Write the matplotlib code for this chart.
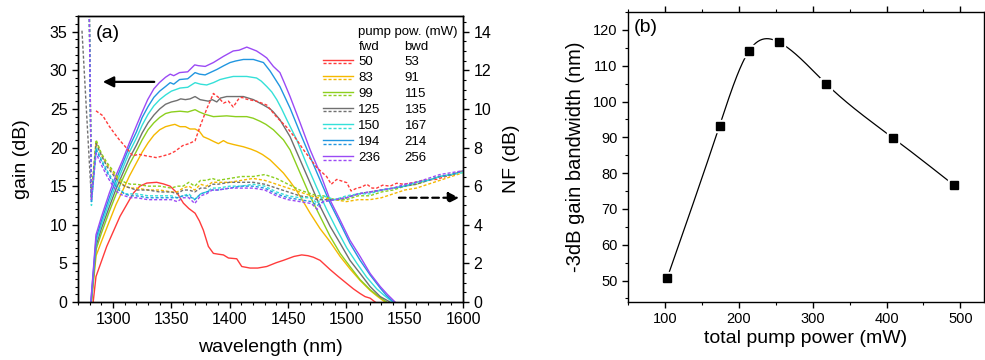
import numpy as np
import matplotlib
matplotlib.use("Agg")
import matplotlib.pyplot as plt
from matplotlib.ticker import MultipleLocator

plt.rcParams['font.family'] = ['Liberation Sans', 'DejaVu Sans']

# ---------------- data: panel (a) gain (solid, left axis) ----------------
fwd_power = [50, 83, 99, 125, 150, 194, 236]
bwd_power = [53, 91, 115, 135, 167, 214, 256]
colors = ['#ff3b3b', '#f5b800', '#8ccf1e', '#707070', '#35e0d8', '#2196e0', '#9b4af5']

wl_g50 = [1283, 1285.4, 1294.6, 1306, 1317.4, 1323, 1328.9, 1337.4, 1343, 1348.9, 1355, 1360.3, 1365,
          1370.3, 1374, 1377.4, 1381.7, 1386, 1390, 1394.6, 1398.9, 1406, 1410.3, 1417.4, 1424, 1431.7,
          1440, 1446, 1455, 1461.7, 1467, 1471.7, 1477.4, 1486, 1493, 1500.3, 1506, 1511.7, 1516, 1520.3, 1524.6]
g50 = [0, 3.3, 7.2, 11.1, 14.1, 15.0, 15.4, 15.5, 15.3, 15.0, 14.1, 12.8, 12.1,
       11.5, 10.5, 9.3, 7.2, 6.3, 6.2, 6.1, 5.7, 5.6, 4.6, 4.4, 4.4, 4.6,
       5.1, 5.4, 5.9, 6.1, 6.0, 5.8, 5.4, 4.2, 3.3, 2.4, 1.7, 1.1, 0.7, 0.5, 0]

wl_g83 = [1281.5, 1285.5, 1290, 1297, 1302.5, 1308.5, 1314, 1320, 1325, 1330, 1335, 1340, 1345, 1350, 1353,
          1357.4, 1362, 1366, 1370.3, 1374, 1377.4, 1382, 1386, 1390.3, 1394.6, 1398, 1403, 1411.7, 1418,
          1423, 1428, 1434.6, 1440, 1446, 1451.7, 1457.4, 1463, 1468.9, 1477.4, 1486, 1494.6, 1503, 1511.7,
          1520.3, 1526, 1533]
g83 = [0, 6.0, 7.8, 10.5, 12.6, 14.5, 16.3, 18.0, 19.4, 20.6, 21.6, 22.3, 22.7, 22.9, 23.0,
       22.7, 22.7, 22.4, 22.4, 22.1, 21.4, 21.1, 20.8, 20.5, 20.9, 20.6, 20.4, 20.1, 19.8,
       19.5, 19.1, 18.4, 17.6, 16.7, 15.6, 14.4, 13.0, 11.5, 9.5, 7.8, 5.9, 4.3, 2.8,
       1.5, 0.8, 0]

wl_g99 = [1281.5, 1285.5, 1290, 1297, 1302.5, 1308.5, 1314, 1320, 1325, 1330, 1335, 1340, 1345, 1350,
          1357.4, 1364, 1370.3, 1374, 1378.9, 1386, 1397.4, 1405, 1414.6, 1420, 1426, 1431, 1437.4, 1446,
          1451.7, 1460.3, 1468.9, 1477.4, 1486, 1494.6, 1503, 1511.7, 1520.3, 1527, 1534.6]
g99 = [0, 6.8, 8.9, 11.8, 13.9, 16.0, 17.8, 19.5, 21.0, 22.3, 23.2, 23.9, 24.4, 24.6,
       24.7, 24.6, 24.9, 24.6, 24.3, 24.0, 24.1, 24.0, 24.0, 23.8, 23.4, 23.0, 22.3, 21.0,
       19.7, 16.7, 13.7, 11.1, 8.5, 6.3, 4.6, 2.9, 1.6, 0.8, 0]

wl_g125 = [1281.3, 1285.5, 1290, 1297, 1302.5, 1308.5, 1314, 1320, 1325, 1330, 1335, 1340, 1345, 1350,
           1355, 1358, 1362, 1366, 1370.3, 1374.6, 1381.7, 1385, 1388.9, 1392, 1397.4, 1411.7, 1420.3,
           1428.9, 1434.6, 1437.4, 1443, 1451.7, 1460.3, 1468.9, 1477.4, 1486, 1494.6, 1503, 1511.7,
           1520.3, 1529, 1537.4]
g125 = [0, 7.3, 9.5, 12.4, 14.6, 16.7, 18.6, 20.3, 21.9, 23.2, 24.2, 25.0, 25.6, 25.9,
        26.1, 26.3, 26.2, 26.3, 26.6, 26.2, 26.0, 26.2, 25.9, 26.4, 26.6, 26.6, 26.2,
        25.5, 25.0, 24.6, 23.6, 21.4, 18.4, 15.4, 12.4, 9.8, 7.6, 5.4, 3.7,
        2.0, 0.7, 0]

wl_g150 = [1281.2, 1285.5, 1290, 1297, 1302.5, 1308.5, 1314, 1320, 1325, 1330, 1335, 1340, 1345, 1350,
           1357.4, 1364, 1370.3, 1375, 1380.3, 1386, 1391.7, 1397, 1403, 1414.6, 1423, 1427, 1431.7,
           1436, 1440.3, 1444.5, 1448.9, 1457.4, 1466, 1474.6, 1483, 1491.7, 1500.3, 1509, 1517.4,
           1526, 1532, 1539.5]
g150 = [0, 7.8, 10.0, 13.0, 15.2, 17.4, 19.4, 21.2, 22.9, 24.3, 25.4, 26.2, 26.8, 27.3,
        27.7, 27.8, 28.4, 28.2, 28.1, 28.4, 28.8, 29.0, 29.2, 29.2, 29.0, 28.6, 27.9,
        27.2, 26.2, 25.0, 23.6, 21.0, 17.8, 14.8, 12.0, 9.4, 7.0, 5.0, 3.2,
        1.7, 0.9, 0]

wl_g194 = [1281.0, 1285.5, 1290, 1297, 1302.5, 1308.5, 1314, 1320, 1325, 1330, 1335, 1340, 1345, 1349,
           1352, 1357, 1364, 1370.3, 1374, 1378.9, 1388.9, 1395, 1400.3, 1405, 1411.7, 1420.3, 1428.9,
           1434.6, 1443, 1451.7, 1460.3, 1468.9, 1477.4, 1486, 1494.6, 1503, 1511.7, 1520.3, 1529,
           1534, 1540.3]
g194 = [0, 8.3, 10.5, 13.6, 15.8, 18.0, 20.1, 22.0, 23.9, 25.3, 26.5, 27.3, 27.9, 28.4,
        28.2, 28.8, 28.9, 29.7, 29.5, 29.4, 30.1, 30.6, 31.0, 31.2, 31.4, 31.4, 31.0,
        29.9, 27.9, 25.1, 21.9, 18.8, 15.8, 12.8, 10.2, 7.6, 5.4, 3.5, 1.8,
        0.9, 0]

wl_g236 = [1281.0, 1285.4, 1290, 1296.8, 1302, 1308.3, 1314, 1319.7, 1325, 1329.7, 1335, 1339.7, 1345,
           1349, 1352, 1357, 1364, 1370, 1373, 1379, 1386, 1394.6, 1403, 1408, 1414.6, 1418, 1423, 1428,
           1431.7, 1437.4, 1443, 1447, 1451.7, 1460.3, 1468.9, 1477.4, 1486, 1494.6, 1503, 1511.7,
           1520.3, 1529, 1535, 1541.7]
g236 = [0, 8.7, 11.0, 14.1, 16.2, 18.4, 20.6, 22.7, 24.6, 26.2, 27.6, 28.4, 29.1,
        29.5, 29.3, 29.7, 29.8, 30.7, 30.6, 30.5, 31.0, 31.8, 32.5, 32.6, 33.0, 32.8, 32.5, 32.0,
        31.6, 30.5, 29.7, 28.3, 26.6, 23.2, 19.7, 16.7, 13.2, 10.6, 8.0, 5.9,
        3.7, 2.0, 1.0, 0]

# ---------------- data: panel (a) NF (dashed, right axis) ----------------
wl_nf53 = [1285.4, 1291.2, 1296.8, 1301, 1305.4, 1312.6, 1316.9, 1322, 1328.3, 1336.9, 1342, 1348.3,
           1353, 1359.7, 1365, 1370.3, 1374.6, 1380.3, 1386, 1390.3, 1394.6, 1398.9, 1403, 1407.4,
           1410.3, 1414.6, 1423, 1431.7, 1440.3, 1448.9, 1457.4, 1463, 1468, 1474.6, 1483, 1487,
           1491.7, 1500.3, 1504, 1508.9, 1513, 1517.4, 1522, 1526, 1531, 1537.4, 1543, 1548.9, 1557,
           1565, 1577, 1585, 1592, 1597, 1600]
nf53 = [9.9, 9.65, 9.1, 8.75, 8.4, 7.9, 7.57, 7.65, 7.57, 7.48, 7.55, 7.66,
        7.8, 8.1, 8.2, 8.35, 9.1, 10.0, 10.8, 10.6, 10.3, 10.4, 10.1, 10.5,
        10.6, 10.5, 10.4, 10.2, 9.57, 9.05, 8.4, 7.9, 7.5, 6.96, 6.5, 6.1,
        6.35, 6.18, 5.75, 5.9, 5.95, 6.1, 5.9, 5.9, 6.05, 6.0, 6.15, 6.1, 6.18,
        6.3, 6.35, 6.5, 6.6, 6.75, 6.8]

wl_nf = [1279.5, 1281.5, 1285.5, 1290, 1295, 1300, 1305, 1310, 1315, 1320, 1330, 1340, 1350, 1355, 1360,
         1365, 1370, 1375, 1380, 1385, 1390, 1400, 1410, 1420, 1430, 1440, 1450, 1460, 1470, 1475,
         1480, 1490, 1500, 1510, 1520, 1530, 1540, 1550, 1560, 1570, 1580, 1590, 1600]
nf91 = [16, 5.4, 8.3, 7.6, 7.1, 6.7, 6.3, 6.0, 5.9, 5.9, 5.8, 5.8, 5.7, 5.7, 5.9,
        6.0, 5.8, 6.1, 6.0, 6.2, 6.2, 6.2, 6.3, 6.4, 6.3, 6.1, 5.9, 5.7, 5.5, 5.4,
        5.4, 5.3, 5.2, 5.3, 5.3, 5.4, 5.6, 5.8, 5.9, 6.1, 6.3, 6.5, 6.7]
nf115 = [16, 5.6, 8.4, 7.7, 7.2, 6.8, 6.4, 6.2, 6.1, 6.1, 6.0, 6.0, 5.9, 6.0, 6.0,
         6.2, 6.0, 6.3, 6.3, 6.4, 6.3, 6.4, 6.5, 6.5, 6.6, 6.4, 6.1, 5.8, 5.6, 5.5,
         5.5, 5.3, 5.3, 5.5, 5.5, 5.7, 5.8, 6.0, 6.1, 6.3, 6.5, 6.6, 6.8]
nf135 = [14.05, 5.3, 8.2, 7.6, 7.0, 6.6, 6.2, 6.0, 5.9, 5.8, 5.8, 5.7, 5.7, 5.6, 5.8,
         5.8, 5.7, 5.9, 5.9, 6.1, 6.1, 6.2, 6.2, 6.2, 6.1, 5.9, 5.7, 5.5, 5.4, 5.3,
         5.3, 5.3, 5.4, 5.6, 5.7, 5.8, 5.9, 6.0, 6.1, 6.3, 6.5, 6.6, 6.8]
wl_nf135_start = 1273.4
nf167 = [16, 5.0, 8.0, 7.4, 6.8, 6.3, 5.9, 5.6, 5.6, 5.6, 5.5, 5.5, 5.5, 5.4, 5.5,
         5.6, 5.3, 5.6, 5.7, 5.9, 5.9, 6.0, 6.0, 6.1, 6.0, 5.7, 5.5, 5.4, 5.4, 5.1,
         5.5, 5.3, 5.5, 5.6, 5.6, 5.8, 5.9, 6.0, 6.2, 6.3, 6.5, 6.6, 6.7]
nf214 = [16, 5.2, 7.9, 7.3, 6.7, 6.2, 5.8, 5.6, 5.5, 5.5, 5.4, 5.4, 5.4, 5.4, 5.5,
         5.5, 5.3, 5.6, 5.7, 5.8, 5.8, 5.9, 6.0, 6.0, 5.9, 5.6, 5.4, 5.3, 5.2, 5.0,
         5.2, 5.3, 5.4, 5.6, 5.7, 5.8, 5.9, 6.0, 6.2, 6.3, 6.5, 6.6, 6.8]
nf256 = [16, 5.3, 7.7, 7.1, 6.5, 6.0, 5.6, 5.5, 5.4, 5.4, 5.3, 5.3, 5.3, 5.2, 5.4,
         5.4, 5.1, 5.5, 5.6, 5.8, 5.8, 5.9, 5.9, 5.9, 5.8, 5.5, 5.3, 5.2, 5.1, 4.8,
         5.2, 5.3, 5.4, 5.6, 5.7, 5.8, 5.9, 6.1, 6.2, 6.4, 6.6, 6.7, 6.8]

# ---------------- data: panel (b) ----------------
total_pump = [103, 174, 214, 255, 318, 409, 491]
bandwidth = [50.7, 93.3, 114.2, 116.5, 105.0, 89.8, 76.7]


def natural_spline(x, y, xs):
    x = np.asarray(x, float); y = np.asarray(y, float)
    n = len(x); h = np.diff(x)
    A = np.zeros((n, n)); r = np.zeros(n)
    A[0, 0] = 1; A[-1, -1] = 1
    for i in range(1, n - 1):
        A[i, i - 1] = h[i - 1]; A[i, i] = 2 * (h[i - 1] + h[i]); A[i, i + 1] = h[i]
        r[i] = 6 * ((y[i + 1] - y[i]) / h[i] - (y[i] - y[i - 1]) / h[i - 1])
    M = np.linalg.solve(A, r)
    idx = np.clip(np.searchsorted(x, xs) - 1, 0, n - 2)
    x0, x1, hh = x[idx], x[idx + 1], h[idx]
    return (M[idx] * (x1 - xs) ** 3 / (6 * hh) + M[idx + 1] * (xs - x0) ** 3 / (6 * hh)
            + (y[idx] / hh - M[idx] * hh / 6) * (x1 - xs)
            + (y[idx + 1] / hh - M[idx + 1] * hh / 6) * (xs - x0))


fig = plt.figure(figsize=(9.85, 3.6), dpi=100)

# ---------------- panel (a) ----------------
ax = fig.add_axes([0.0792, 0.161, 0.391, 0.794])
ax2 = ax.twinx()

gain_wl = [wl_g50, wl_g83, wl_g99, wl_g125, wl_g150, wl_g194, wl_g236]
gain_vals = [g50, g83, g99, g125, g150, g194, g236]
for wl, g, c in zip(gain_wl, gain_vals, colors):
    ax.plot(wl, g, color=c, lw=1.0, solid_joinstyle='round')

dash = (0, (2.2, 1.4))
nf_sets = [(wl_nf53, nf53), (wl_nf, nf91), (wl_nf, nf115),
           ([wl_nf135_start] + wl_nf[1:], nf135), (wl_nf, nf167), (wl_nf, nf214), (wl_nf, nf256)]
for (wl, nf), c in zip(nf_sets, colors):
    ax2.plot(wl, nf, color=c, lw=1.0, linestyle=dash)

ax.set_xlim(1270, 1600)
ax.set_ylim(0, 37)
ax2.set_ylim(0, 14.8)

ax.xaxis.set_major_locator(MultipleLocator(50))
ax.xaxis.set_minor_locator(MultipleLocator(10))
ax.yaxis.set_major_locator(MultipleLocator(5))
ax.yaxis.set_minor_locator(MultipleLocator(1))
ax2.yaxis.set_major_locator(MultipleLocator(2))
ax2.yaxis.set_minor_locator(MultipleLocator(0.5))
ax.set_xticks([1300, 1350, 1400, 1450, 1500, 1550, 1600])

for a in (ax, ax2):
    a.tick_params(which='major', direction='out', length=4, width=1, labelsize=11.5)
    a.tick_params(which='minor', direction='out', length=2.5, width=0.8)
    for s in a.spines.values():
        s.set_linewidth(1.0)

ax.set_xlabel('wavelength (nm)', fontsize=14)
ax.set_ylabel('gain (dB)', fontsize=14)
ax2.set_ylabel('NF (dB)', fontsize=14)
ax.xaxis.set_label_coords(0.5, -0.13)
ax.yaxis.set_label_coords(-0.125, 0.5)
ax2.yaxis.set_label_coords(1.104, 0.5)

ax.text(0.045, 0.94, '(a)', transform=ax.transAxes, fontsize=14, ha='left', va='center')

# arrows
ax.annotate('', xy=(1288.9, 28.5), xytext=(1337.7, 28.5),
            arrowprops=dict(arrowstyle='-|>', color='k', lw=1.6, mutation_scale=16))
ax2.annotate('', xy=(1599, 5.4), xytext=(1542.6, 5.4),
             arrowprops=dict(arrowstyle='-|>', color='k', lw=1.6, mutation_scale=16,
                             linestyle=(0, (3, 2))))

# legend drawn manually
fs_leg = 9.5
ax.text(0.728, 0.944, 'pump pow. (mW)', transform=ax.transAxes, fontsize=fs_leg, va='center')
ax.text(0.728, 0.892, 'fwd', transform=ax.transAxes, fontsize=fs_leg, va='center')
ax.text(0.848, 0.892, 'bwd', transform=ax.transAxes, fontsize=fs_leg, va='center')
row_y0, row_dy = 0.839, 0.0561
for i, (fp, bp, c) in enumerate(zip(fwd_power, bwd_power, colors)):
    yy = row_y0 - i * row_dy
    ax.plot([0.636, 0.714], [yy + 0.009, yy + 0.009], color=c, lw=1.0, transform=ax.transAxes, clip_on=False)
    ax.plot([0.636, 0.714], [yy - 0.004, yy - 0.004], color=c, lw=1.0, linestyle=dash,
            transform=ax.transAxes, clip_on=False)
    ax.text(0.728, yy, str(fp), transform=ax.transAxes, fontsize=fs_leg, va='center')
    ax.text(0.848, yy, str(bp), transform=ax.transAxes, fontsize=fs_leg, va='center')

# ---------------- panel (b) ----------------
bx = fig.add_axes([0.6376, 0.161, 0.3614, 0.8056])
xs = np.linspace(total_pump[0], total_pump[-1], 400)
bx.plot(xs, natural_spline(total_pump, bandwidth, xs), color='k', lw=0.9)
bx.plot(total_pump, bandwidth, linestyle='none', marker='s', ms=9, color='white', zorder=3)
bx.plot(total_pump, bandwidth, linestyle='none', marker='s', ms=6, color='black', zorder=4)

bx.set_xlim(50, 532)
bx.set_ylim(44, 125)
bx.xaxis.set_major_locator(MultipleLocator(100))
bx.xaxis.set_minor_locator(MultipleLocator(50))
bx.yaxis.set_major_locator(MultipleLocator(10))
bx.yaxis.set_minor_locator(MultipleLocator(5))
bx.set_yticks([50, 60, 70, 80, 90, 100, 110, 120])
bx.tick_params(which='major', direction='out', length=4, width=1, labelsize=10.5)
bx.tick_params(which='minor', direction='out', length=2.5, width=0.8)
bx.tick_params(which='both', top=True)
for s in bx.spines.values():
    s.set_linewidth(1.0)
bx.set_xlabel('total pump power (mW)', fontsize=14)
bx.set_ylabel('-3dB gain bandwidth (nm)', fontsize=14.5)
bx.xaxis.set_label_coords(0.5, -0.097)
bx.yaxis.set_label_coords(-0.121, 0.5)
bx.text(0.017, 0.945, '(b)', transform=bx.transAxes, fontsize=14, ha='left', va='center')

fig.savefig('out.png', dpi=100)
